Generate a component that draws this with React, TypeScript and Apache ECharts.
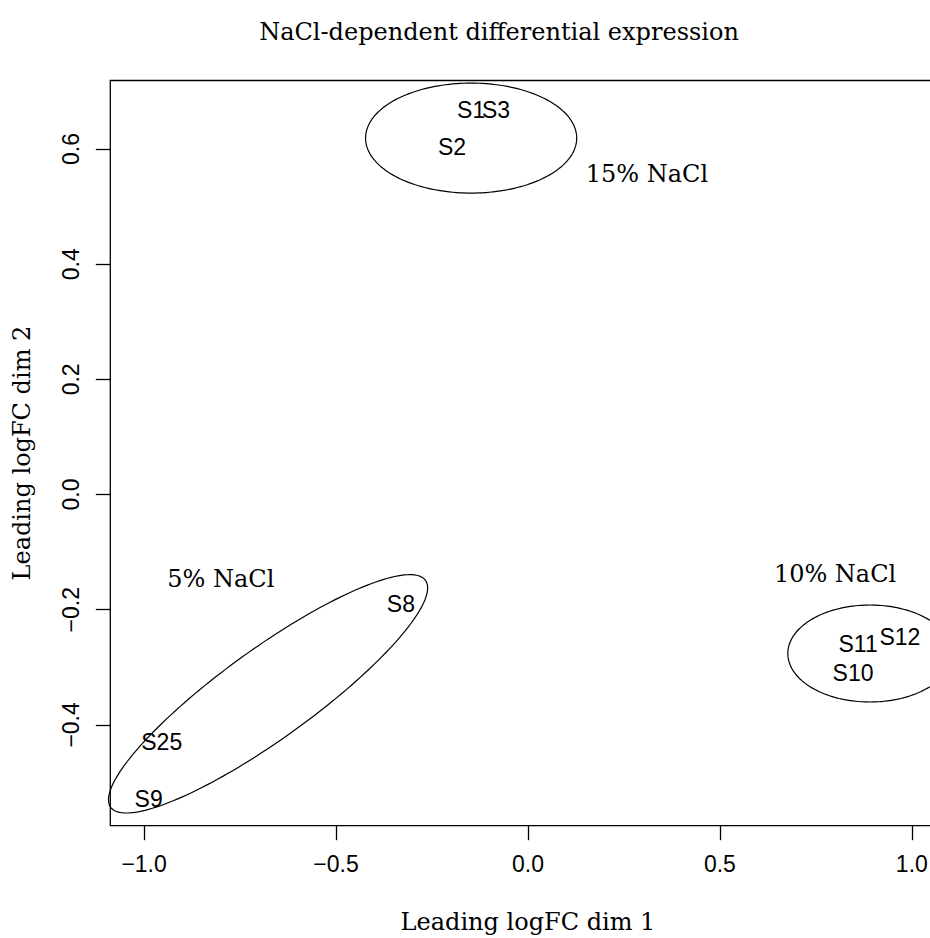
import React, { useEffect, useRef } from "react";
import * as echarts from "echarts";

// MDS coordinates of the samples (leading logFC dimensions 1 and 2)
const sampleNames = ["S1", "S3", "S2", "S8", "S25", "S9", "S10", "S11", "S12"];
const dim1 = [-0.148, -0.083, -0.198, -0.331, -0.954, -0.988, 0.847, 0.86, 0.969];
const dim2 = [0.668, 0.668, 0.603, -0.19, -0.43, -0.528, -0.31, -0.259, -0.247];

// Treatment group annotations
const groupNames = ["5% NaCl", "10% NaCl", "15% NaCl"];
const groupLabelX = [-0.8, 0.8, 0.31];
const groupLabelY = [-0.147, -0.138, 0.557];

// Group ellipses: centre, first semi-axis vector, second semi-axis vector (data units)
const ellipseCenterX = [-0.677, 0.891, -0.148];
const ellipseCenterY = [-0.346, -0.276, 0.619];
const ellipseAxisU = [
  [0.41, 0.197],
  [0.214, 0],
  [0.275, 0],
];
const ellipseAxisV = [
  [0.0686, -0.0634],
  [0, 0.0842],
  [0, 0.0955],
];

const xTicks = [-1, -0.5, 0, 0.5, 1];
const yTicks = [-0.4, -0.2, 0, 0.2, 0.4, 0.6];

const SANS = "'Liberation Sans', Arial, sans-serif";
const SERIF = "'DejaVu Serif', serif";

const fmt = (v: number) => {
  const s = Math.abs(v).toFixed(1);
  return v < -1e-9 ? "\u2212" + s : s;
};

export default function App() {
  const ref = useRef<HTMLDivElement>(null);

  useEffect(() => {
    if (!ref.current) return;
    const chart = echarts.init(ref.current, undefined, { renderer: "svg" });

    const ellipseData = ellipseCenterX.map((cx, i) => [
      cx,
      ellipseCenterY[i],
      ellipseAxisU[i][0],
      ellipseAxisU[i][1],
      ellipseAxisV[i][0],
      ellipseAxisV[i][1],
    ]);

    const textLabel = (family: string, size: number) => ({
      show: true,
      position: "inside",
      formatter: "{b}",
      fontFamily: family,
      fontSize: size,
      color: "#000",
      opacity: 1,
      textBorderWidth: 0,
      textBorderColor: "transparent",
    });

    chart.setOption({
      animation: false,
      backgroundColor: "#fff",
      grid: {
        left: 110.3,
        top: 80.5,
        right: -15.6,
        bottom: 112.3,
        show: true,
        borderColor: "#000",
        borderWidth: 1.3,
        backgroundColor: "transparent",
        containLabel: false,
        outerBoundsMode: "none",
      },
      graphic: [
        {
          type: "text",
          x: 499,
          y: 32,
          style: {
            text: "NaCl-dependent differential expression",
            fontFamily: SERIF,
            fontSize: 24,
            fill: "#000",
            align: "center",
            verticalAlign: "middle",
            textAlign: "center",
            textVerticalAlign: "middle",
          },
        },
      ],
      xAxis: {
        type: "value",
        min: -1.088,
        max: 1.088,
        name: "Leading logFC dim 1",
        nameLocation: "middle",
        nameGap: 84,
        nameTextStyle: { fontFamily: SERIF, fontSize: 24, color: "#000" },
        axisLine: { show: false, onZero: false },
        splitLine: { show: false },
        axisTick: {
          show: true,
          length: 14.5,
          customValues: xTicks,
          lineStyle: { color: "#000", width: 1.3 },
        },
        axisLabel: {
          customValues: xTicks,
          formatter: (v: number) => fmt(v),
          fontFamily: SANS,
          fontSize: 23,
          color: "#000",
          margin: 27,
        },
      },
      yAxis: {
        type: "value",
        min: -0.575,
        max: 0.719,
        name: "Leading logFC dim 2",
        nameLocation: "middle",
        nameGap: 76,
        nameTextStyle: { fontFamily: SERIF, fontSize: 24, color: "#000" },
        axisLine: { show: false, onZero: false },
        splitLine: { show: false },
        axisTick: {
          show: true,
          length: 14.5,
          customValues: yTicks,
          lineStyle: { color: "#000", width: 1.3 },
        },
        axisLabel: {
          customValues: yTicks,
          formatter: (v: number) => fmt(v),
          rotate: 90,
          fontFamily: SANS,
          fontSize: 23,
          color: "#000",
          margin: 28,
        },
      },
      series: [
        {
          type: "custom",
          silent: true,
          data: ellipseData,
          renderItem: (_params: any, api: any) => {
            const cx = api.value(0);
            const cy = api.value(1);
            const ux = api.value(2);
            const uy = api.value(3);
            const vx = api.value(4);
            const vy = api.value(5);
            const pts: number[][] = [];
            const n = 180;
            for (let k = 0; k <= n; k++) {
              const t = (k / n) * Math.PI * 2;
              const c = Math.cos(t);
              const s = Math.sin(t);
              pts.push(api.coord([cx + ux * c + vx * s, cy + uy * c + vy * s]));
            }
            return {
              type: "polygon",
              shape: { points: pts },
              style: { fill: "none", stroke: "#000", lineWidth: 1.2 },
            };
          },
        },
        {
          type: "scatter",
          silent: true,
          symbolSize: 1,
          itemStyle: { color: "transparent", opacity: 1 },
          label: textLabel(SANS, 23),
          data: sampleNames.map((n, i) => ({ name: n, value: [dim1[i], dim2[i]] })),
        },
        {
          type: "scatter",
          silent: true,
          symbolSize: 1,
          itemStyle: { color: "transparent", opacity: 1 },
          label: textLabel(SERIF, 24),
          data: groupNames.map((n, i) => ({ name: n, value: [groupLabelX[i], groupLabelY[i]] })),
        },
      ],
    });

    return () => chart.dispose();
  }, []);

  return (
    <div
      ref={ref}
      style={{ position: "fixed", left: 0, top: 0, width: 930, height: 938 }}
    />
  );
}
